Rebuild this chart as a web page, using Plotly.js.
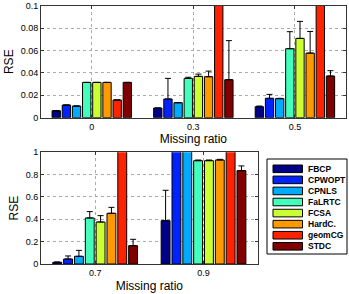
<!DOCTYPE html>
<html>
<head>
<meta charset="utf-8">
<script src="https://cdn.plot.ly/plotly-3.0.1.min.js"></script>
<style>html,body{margin:0;padding:0;background:#fff;}#chart{width:349px;height:294px;}</style>
</head>
<body>
<div id="chart"></div>
<script>
// ---- data ----
var methods = ["FBCP", "CPWOPT", "CPNLS", "FaLRTC", "FCSA", "HardC.", "geomCG", "STDC"];
var colors = ["#000086", "#0022ff", "#00aaff", "#44ffbb", "#ccff33", "#ff9900", "#ff2200", "#800000"];

var topRatios = ["0", "0.3", "0.5"];
var bottomRatios = ["0.7", "0.9"];

// RSE means (top panel: missing ratio 0, 0.3, 0.5) - values beyond 0.1 are clipped in the figure
var topFBCP   = [0.0062, 0.0086, 0.0098];
var topCPWOPT = [0.0113, 0.0167, 0.0173];
var topCPNLS  = [0.0104, 0.0134, 0.0170];
var topFaLRTC = [0.0315, 0.0351, 0.0616];
var topFCSA   = [0.0315, 0.0369, 0.0708];
var topHardC  = [0.0315, 0.0366, 0.0577];
var topGeomCG = [0.0158, 0.5, 0.5];
var topSTDC   = [0.0315, 0.0339, 0.0372];

// upper error amounts (top panel)
var topErrFBCP   = [0, 0, 0.0006];
var topErrCPWOPT = [0, 0.0184, 0.0035];
var topErrCPNLS  = [0, 0, 0.0003];
var topErrFaLRTC = [0, 0.0010, 0.0152];
var topErrFCSA   = [0, 0.0020, 0.0152];
var topErrHardC  = [0, 0.0050, 0.0193];
var topErrGeomCG = [0, 0, 0];
var topErrSTDC   = [0, 0.0349, 0.0048];

// RSE means (bottom panel: missing ratio 0.7, 0.9) - values beyond 1 are clipped in the figure
var botFBCP   = [0.015, 0.388];
var botCPWOPT = [0.045, 5];
var botCPNLS  = [0.069, 5];
var botFaLRTC = [0.412, 0.925];
var botFCSA   = [0.376, 0.925];
var botHardC  = [0.454, 0.931];
var botGeomCG = [5, 5];
var botSTDC   = [0.164, 0.836];

var botErrFBCP   = [0.003, 0.272];
var botErrCPWOPT = [0.027, 0];
var botErrCPNLS  = [0.053, 0];
var botErrFaLRTC = [0.057, 0.006];
var botErrFCSA   = [0.057, 0.006];
var botErrHardC  = [0.053, 0.006];
var botErrGeomCG = [0, 0];
var botErrSTDC   = [0.057, 0.042];

var topVals = [topFBCP, topCPWOPT, topCPNLS, topFaLRTC, topFCSA, topHardC, topGeomCG, topSTDC];
var topErrs = [topErrFBCP, topErrCPWOPT, topErrCPNLS, topErrFaLRTC, topErrFCSA, topErrHardC, topErrGeomCG, topErrSTDC];
var botVals = [botFBCP, botCPWOPT, botCPNLS, botFaLRTC, botFCSA, botHardC, botGeomCG, botSTDC];
var botErrs = [botErrFBCP, botErrCPWOPT, botErrCPNLS, botErrFaLRTC, botErrFCSA, botErrHardC, botErrGeomCG, botErrSTDC];

// ---- traces ----
var traces = [];
function addPanel(cats, vals, errs, xa, ya) {
  for (var i = 0; i < methods.length; i++) {
    traces.push({
      type: "bar", name: methods[i], x: cats, y: vals[i],
      xaxis: xa, yaxis: ya, showlegend: false,
      marker: {color: colors[i], line: {color: "#000", width: 1}},
      error_y: {type: "data", symmetric: false, array: errs[i],
                arrayminus: errs[i].map(function(){return 0;}),
                color: "#000", thickness: 1, width: 3},
      hoverinfo: "name+y"
    });
  }
}
addPanel(topRatios, topVals, topErrs, "x", "y");
addPanel(bottomRatios, botVals, botErrs, "x2", "y2");

var W = 349, H = 294;
function px(x) { return x / W; }
function py(y) { return 1 - y / H; }

var fontTick = {family: "Liberation Sans, Arial, sans-serif", size: 9, color: "#000"};
var fontTitle = {family: "Liberation Sans, Arial, sans-serif", size: 12, color: "#000"};

function xAxis(dom, anchor) {
  return {domain: dom, anchor: anchor, type: "category",
    showline: true, linecolor: "#333", linewidth: 1, mirror: "ticks",
    ticks: "inside", ticklen: 3, tickcolor: "#333",
    showgrid: true, gridcolor: "#aaa", griddash: "dot", gridwidth: 1,
    tickfont: fontTick, zeroline: false,
    title: {text: "Missing ratio", font: fontTitle, standoff: 4}};
}
function yAxis(dom, anchor, range, dtick) {
  return {domain: dom, anchor: anchor, range: range, dtick: dtick,
    showline: true, linecolor: "#333", linewidth: 1, mirror: "ticks",
    ticks: "inside", ticklen: 3, tickcolor: "#333",
    showgrid: true, gridcolor: "#aaa", griddash: "dot", gridwidth: 1,
    tickfont: fontTick, zeroline: false,
    title: {text: "RSE", font: fontTitle, standoff: 4}};
}

// ---- legend (drawn in paper coordinates from methods/colors) ----
var shapes = [], annotations = [];
shapes.push({type: "rect", xref: "paper", yref: "paper",
  x0: px(267), x1: px(347), y0: py(254), y1: py(159),
  line: {color: "#000", width: 1}, fillcolor: "#fff"});
for (var i = 0; i < methods.length; i++) {
  var cy = 168.8 + i * 11.07;
  shapes.push({type: "rect", xref: "paper", yref: "paper",
    x0: px(273), x1: px(302.5), y0: py(cy + 3.8), y1: py(cy - 3.8),
    line: {color: "#000", width: 1}, fillcolor: colors[i]});
  annotations.push({xref: "paper", yref: "paper", x: px(306), y: py(cy),
    xanchor: "left", yanchor: "middle", showarrow: false,
    text: "<b>" + methods[i] + "</b>",
    font: {family: "Liberation Sans, Arial, sans-serif", size: 8.5, color: "#000"}});
}

var layout = {
  width: W, height: H,
  margin: {l: 0, r: 0, t: 0, b: 0},
  paper_bgcolor: "#fff", plot_bgcolor: "#fff",
  barmode: "group", bargap: 0.2, bargroupgap: 0.18,
  showlegend: false,
  xaxis: xAxis([px(41), px(345.7)], "y"),
  yaxis: yAxis([py(117.7), py(5.7)], "x", [0, 0.1], 0.02),
  xaxis2: xAxis([px(41), px(257.7)], "y2"),
  yaxis2: yAxis([py(264), py(152.3)], "x2", [0, 1], 0.2),
  shapes: shapes,
  annotations: annotations
};

Plotly.newPlot("chart", traces, layout, {displayModeBar: false, staticPlot: true});
</script>
</body>
</html>
